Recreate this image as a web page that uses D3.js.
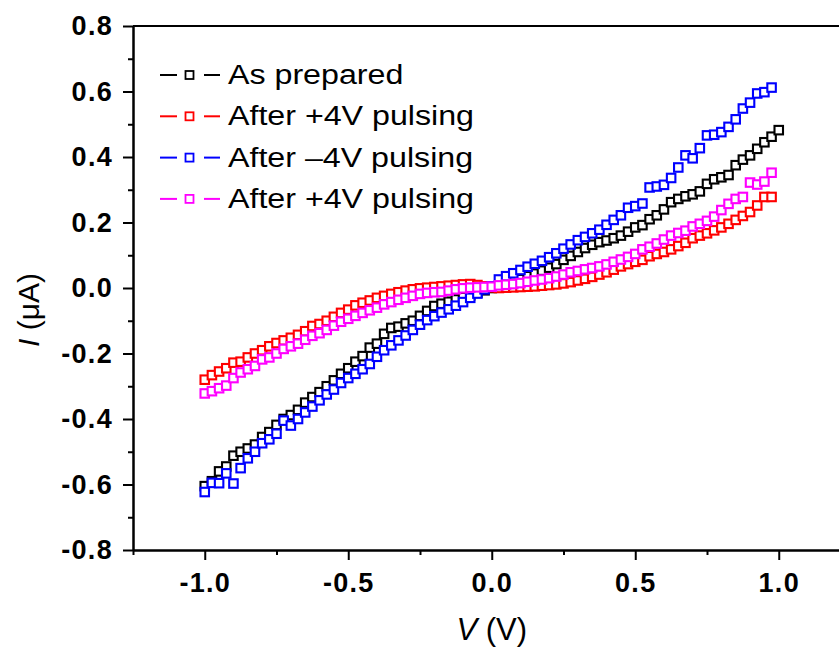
<!DOCTYPE html>
<html>
<head>
<meta charset="utf-8">
<script src="https://cdn.jsdelivr.net/npm/d3@7"></script>
<style>
  body { margin: 0; background: #fff; }
  svg { display: block; }
</style>
</head>
<body>
<script>
// bias voltage (V), one sweep shared by every curve
var voltage = [-1.000, -0.975, -0.950, -0.925, -0.900, -0.875, -0.850, -0.825, -0.800, -0.775,
  -0.750, -0.725, -0.700, -0.675, -0.650, -0.625, -0.600, -0.575, -0.550, -0.525,
  -0.500, -0.475, -0.450, -0.425, -0.400, -0.375, -0.350, -0.325, -0.300, -0.275,
  -0.250, -0.225, -0.200, -0.175, -0.150, -0.125, -0.100, -0.075, -0.050, -0.025,
  0.000, 0.025, 0.050, 0.075, 0.100, 0.125, 0.150, 0.175, 0.200, 0.225,
  0.250, 0.275, 0.300, 0.325, 0.350, 0.375, 0.400, 0.425, 0.450, 0.475,
  0.500, 0.525, 0.550, 0.575, 0.600, 0.625, 0.650, 0.675, 0.700, 0.725,
  0.750, 0.775, 0.800, 0.825, 0.850, 0.875, 0.900, 0.925, 0.950, 0.975, 1.000];

// current (uA)
var asPrepared = [-0.605, -0.590, -0.560, -0.545, -0.512, -0.500, -0.490, -0.478, -0.455, -0.440,
  -0.418, -0.400, -0.388, -0.372, -0.350, -0.333, -0.318, -0.300, -0.282, -0.262,
  -0.245, -0.225, -0.208, -0.182, -0.170, -0.140, -0.122, -0.118, -0.108, -0.100,
  -0.085, -0.070, -0.055, -0.048, -0.042, -0.035, -0.028, -0.022, -0.014, -0.007,
  0.000, 0.006, 0.014, 0.020, 0.027, 0.036, 0.044, 0.053, 0.062, 0.073,
  0.086, 0.098, 0.110, 0.122, 0.132, 0.140, 0.145, 0.152, 0.160, 0.172,
  0.185, 0.192, 0.210, 0.222, 0.240, 0.262, 0.272, 0.280, 0.286, 0.295,
  0.318, 0.332, 0.338, 0.345, 0.375, 0.392, 0.405, 0.425, 0.445, 0.462, 0.482];

var afterPlus1 = [-0.280, -0.266, -0.255, -0.245, -0.228, -0.225, -0.212, -0.200, -0.190, -0.178,
  -0.168, -0.160, -0.152, -0.143, -0.132, -0.116, -0.110, -0.100, -0.088, -0.076,
  -0.066, -0.053, -0.045, -0.038, -0.030, -0.024, -0.018, -0.013, -0.008, -0.004,
  -0.001, 0.001, 0.003, 0.005, 0.007, 0.009, 0.011, 0.012, 0.009, 0.005,
  0.002, 0.000, 0.001, 0.002, 0.003, 0.004, 0.005, 0.007, 0.009, 0.011,
  0.014, 0.018, 0.023, 0.028, 0.034, 0.041, 0.048, 0.056, 0.066, 0.073,
  0.080, 0.086, 0.097, 0.104, 0.110, 0.118, 0.128, 0.138, 0.152, 0.160,
  0.167, 0.176, 0.185, 0.196, 0.208, 0.220, 0.232, 0.252, 0.278, 0.278];

var afterMinus = [-0.623, -0.595, -0.596, -0.566, -0.597, -0.550, -0.520, -0.500, -0.474, -0.462,
  -0.445, -0.405, -0.420, -0.400, -0.380, -0.362, -0.343, -0.325, -0.310, -0.290,
  -0.275, -0.262, -0.248, -0.232, -0.210, -0.190, -0.175, -0.160, -0.145, -0.128,
  -0.112, -0.098, -0.086, -0.075, -0.065, -0.054, -0.043, -0.030, -0.017, -0.004,
  0.005, 0.026, 0.036, 0.045, 0.055, 0.065, 0.074, 0.083, 0.094, 0.106,
  0.120, 0.133, 0.146, 0.156, 0.167, 0.178, 0.193, 0.208, 0.222, 0.245,
  0.250, 0.258, 0.307, 0.310, 0.315, 0.336, 0.368, 0.405, 0.396, 0.427,
  0.466, 0.468, 0.476, 0.492, 0.515, 0.548, 0.566, 0.594, 0.598, 0.612];

var afterPlus2 = [-0.322, -0.315, -0.306, -0.298, -0.275, -0.258, -0.248, -0.238, -0.218, -0.212,
  -0.200, -0.186, -0.178, -0.170, -0.158, -0.146, -0.138, -0.128, -0.115, -0.103,
  -0.094, -0.085, -0.076, -0.068, -0.060, -0.050, -0.043, -0.036, -0.030, -0.024,
  -0.018, -0.015, -0.013, -0.012, -0.008, -0.004, -0.001, 0.001, 0.002, 0.003,
  0.004, 0.008, 0.010, 0.012, 0.015, 0.019, 0.023, 0.026, 0.030, 0.035,
  0.041, 0.048, 0.052, 0.057, 0.061, 0.066, 0.072, 0.080, 0.087, 0.095,
  0.104, 0.118, 0.126, 0.136, 0.148, 0.160, 0.168, 0.175, 0.188, 0.196,
  0.205, 0.218, 0.238, 0.257, 0.272, 0.278, 0.322, 0.316, 0.325, 0.352];

var seriesNames = ['As prepared', 'After +4V pulsing', 'After \u20134V pulsing', 'After +4V pulsing'];
var seriesColors = ['#000000', '#ff0000', '#0000ff', '#ff00ff'];
var seriesValues = [asPrepared, afterPlus1, afterMinus, afterPlus2];

var xTicks = [-1.0, -0.5, 0.0, 0.5, 1.0];
var xMinor = [-1.25, -0.75, -0.25, 0.25, 0.75, 1.25];
var yTicks = [-0.8, -0.6, -0.4, -0.2, 0.0, 0.2, 0.4, 0.6, 0.8];
var yMinor = [-0.7, -0.5, -0.3, -0.1, 0.1, 0.3, 0.5, 0.7];

var width = 839, height = 648;
var margin = { left: 133, top: 26, bottom: 98 };

var x = d3.scaleLinear().domain([-1.25, 1.25]).range([margin.left, margin.left + 717.5]);
var y = d3.scaleLinear().domain([-0.8, 0.8]).range([height - margin.bottom, margin.top]);

var svg = d3.select('body').append('svg').attr('width', width).attr('height', height);

var font = 'Liberation Sans, Arial, sans-serif';
var fmt = function(d) { return d3.format('.1f')(d).replace('\u2212', '-'); };

// frame top line
svg.append('line')
  .attr('x1', x(-1.25)).attr('x2', x(1.25))
  .attr('y1', y(0.8)).attr('y2', y(0.8))
  .attr('stroke', '#000').attr('stroke-width', 2);

// y axis, major + minor
var gy = svg.append('g').attr('transform', 'translate(' + margin.left + ',0)')
  .call(d3.axisLeft(y).tickValues(yTicks).tickSize(10).tickPadding(10).tickSizeOuter(0).tickFormat(fmt));
svg.append('g').attr('transform', 'translate(' + margin.left + ',0)')
  .call(d3.axisLeft(y).tickValues(yMinor).tickSize(5).tickSizeOuter(0).tickFormat(''));

// x axis, major + minor
var gx = svg.append('g').attr('transform', 'translate(0,' + y(-0.8) + ')')
  .call(d3.axisBottom(x).tickValues(xTicks).tickSize(10).tickPadding(13).tickSizeOuter(0).tickFormat(fmt));
svg.append('g').attr('transform', 'translate(0,' + y(-0.8) + ')')
  .call(d3.axisBottom(x).tickValues(xMinor).tickSize(5).tickSizeOuter(0).tickFormat(''));

svg.selectAll('.domain, .tick line').attr('stroke', '#000').attr('stroke-width', 2);
[gx, gy].forEach(function(g) {
  g.selectAll('.tick text')
    .attr('font-family', font).attr('font-weight', 'bold').attr('font-size', 27)
    .style('letter-spacing', '1.3px').attr('fill', '#000');
});

// data markers: white-filled open squares
var size = 8.5;
seriesValues.forEach(function(vals, s) {
  svg.append('g').selectAll('rect')
    .data(vals)
    .enter().append('rect')
    .attr('x', function(d, i) { return x(voltage[i]) - size / 2; })
    .attr('y', function(d) { return y(d) - size / 2; })
    .attr('width', size).attr('height', size)
    .attr('fill', '#fff')
    .attr('stroke', seriesColors[s]).attr('stroke-width', 2.1);
});

// legend
var legend = svg.append('g');
seriesNames.forEach(function(name, i) {
  var ly = 75 + i * 41.3;
  var row = legend.append('g').attr('transform', 'translate(0,' + ly + ')');
  row.append('line').attr('x1', 160).attr('x2', 177).attr('y1', 0).attr('y2', 0)
    .attr('stroke', seriesColors[i]).attr('stroke-width', 2);
  row.append('line').attr('x1', 204).attr('x2', 220).attr('y1', 0).attr('y2', 0)
    .attr('stroke', seriesColors[i]).attr('stroke-width', 2);
  row.append('rect').attr('x', 189.5 - 4).attr('y', -4)
    .attr('width', 8).attr('height', 8)
    .attr('fill', '#fff').attr('stroke', seriesColors[i]).attr('stroke-width', 1.8);
  row.append('text')
    .attr('transform', 'translate(228,9) scale(1.15,1)')
    .attr('font-family', font).attr('font-size', 28).attr('fill', '#000')
    .text(name);
});

// axis titles
var xt = svg.append('text')
  .attr('x', x(0)).attr('y', 640)
  .attr('text-anchor', 'middle')
  .attr('font-family', font).attr('font-size', 31);
xt.append('tspan').attr('font-style', 'italic').text('V');
xt.append('tspan').text(' (V)');

var yt = svg.append('text')
  .attr('transform', 'translate(39,310) rotate(-90)')
  .attr('text-anchor', 'middle')
  .attr('font-family', font).attr('font-size', 30);
yt.append('tspan').attr('font-style', 'italic').text('I');
yt.append('tspan').text(' (\u03bcA)');
</script>
</body>
</html>
